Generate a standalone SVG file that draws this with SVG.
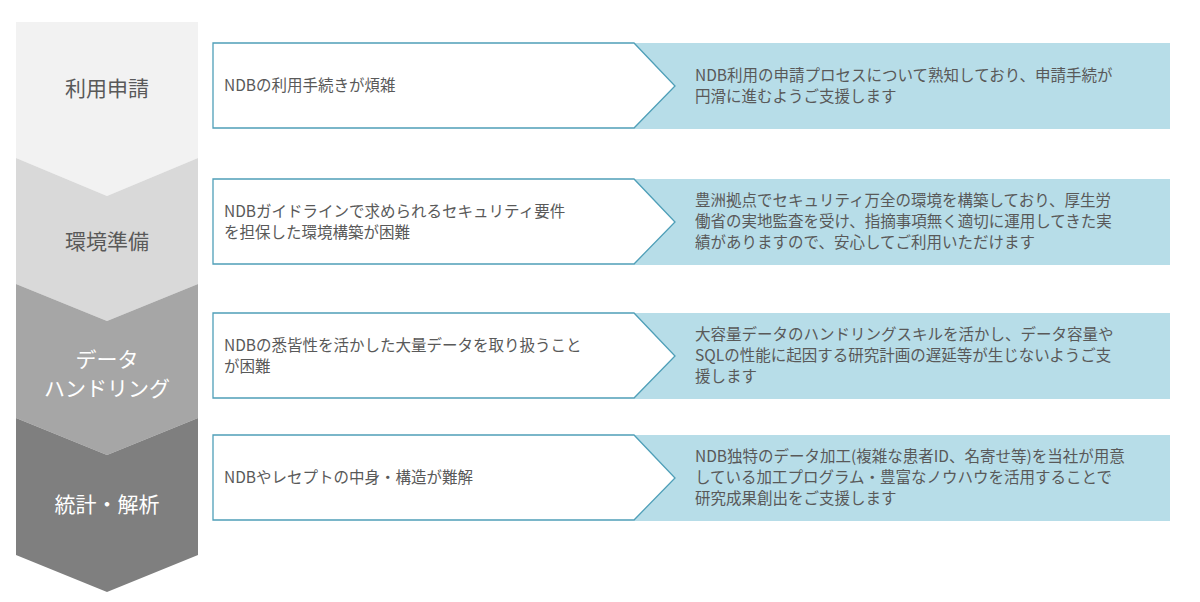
<svg xmlns="http://www.w3.org/2000/svg" width="1200" height="602" viewBox="0 0 1200 602">
<style>
text{font-family:"Noto Sans CJK JP","Noto Sans",sans-serif;}
.lab{font-size:21px;text-anchor:middle;}
.t{font-size:15.5px;fill:#595959;}
.blue{fill:#b7dde8;}
.box{fill:#fff;stroke:#4f9fb8;stroke-width:1.3;}
</style>
<rect width="1200" height="602" fill="#fff"/>
<g id="step1"><polygon points="16,22 198,22 198,158 107,196 16,158" fill="#f2f2f2"/><text class="lab" x="107" y="96" fill="#595959">利用申請</text></g>
<g id="step2"><polygon points="16,158 107,196 198,158 198,284 107,321 16,284" fill="#d9d9d9"/><text class="lab" x="107" y="249" fill="#595959">環境準備</text></g>
<g id="step3"><polygon points="16,284 107,321 198,284 198,418 107,455 16,418" fill="#a6a6a6"/><text class="lab" x="107" y="367" fill="#fff">データ</text><text class="lab" x="107" y="396" fill="#fff">ハンドリング</text></g>
<g id="step4"><polygon points="16,418 107,455 198,418 198,555 107,592 16,555" fill="#7f7f7f"/><text class="lab" x="107" y="512" fill="#fff">統計・解析</text></g>
<g id="row1"><rect class="blue" x="634" y="43" width="536" height="86"/><polygon class="box" points="213,43 634,43 675,86 634,128 213,128"/>
<text class="t" x="224" y="91">NDBの利用手続きが煩雑</text>
<text class="t" x="695" y="81">NDB利用の申請プロセスについて熟知しており、申請手続が</text><text class="t" x="695" y="102">円滑に進むようご支援します</text></g>
<g id="row2"><rect class="blue" x="634" y="179" width="536" height="86"/><polygon class="box" points="213,179 634,179 675,222 634,264 213,264"/>
<text class="t" x="224" y="217">NDBガイドラインで求められるセキュリティ要件</text><text class="t" x="224" y="238">を担保した環境構築が困難</text>
<text class="t" x="695" y="206">豊洲拠点でセキュリティ万全の環境を構築しており、厚生労</text><text class="t" x="695" y="227">働省の実地監査を受け、指摘事項無く適切に運用してきた実</text><text class="t" x="695" y="248">績がありますので、安心してご利用いただけます</text></g>
<g id="row3"><rect class="blue" x="634" y="313" width="536" height="86"/><polygon class="box" points="213,313 634,313 675,356 634,398 213,398"/>
<text class="t" x="224" y="351">NDBの悉皆性を活かした大量データを取り扱うこと</text><text class="t" x="224" y="372">が困難</text>
<text class="t" x="695" y="340">大容量データのハンドリングスキルを活かし、データ容量や</text><text class="t" x="695" y="361">SQLの性能に起因する研究計画の遅延等が生じないようご支</text><text class="t" x="695" y="382">援します</text></g>
<g id="row4"><rect class="blue" x="634" y="435" width="536" height="86"/><polygon class="box" points="213,435 634,435 675,478 634,520 213,520"/>
<text class="t" x="224" y="483">NDBやレセプトの中身・構造が難解</text>
<text class="t" x="695" y="462">NDB独特のデータ加工(複雑な患者ID、名寄せ等)を当社が用意</text><text class="t" x="695" y="483">している加工プログラム・豊富なノウハウを活用することで</text><text class="t" x="695" y="504">研究成果創出をご支援します</text></g>
<g id="connectors"/>
</svg>
